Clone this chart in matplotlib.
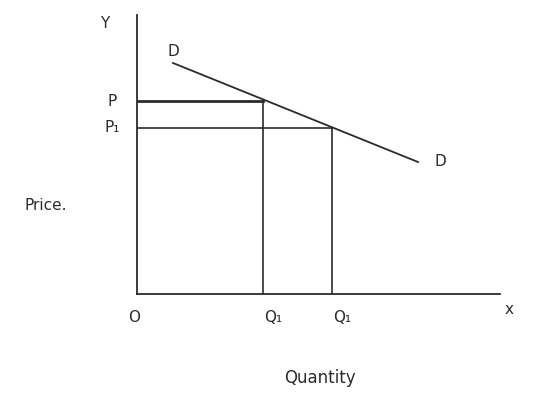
import matplotlib.pyplot as plt

# demand curve end points (quantity, price)
demand_q = [36, 281]
demand_p = [231, 132]

# price levels P, P1 and matching quantities Q1, Q1
prices = [193, 166]
price_labels = ["P", "P₁"]
quantities = [126, 195]
qty_labels = ["Q₁", "Q₁"]

ink = "#2b2b2b"

fig = plt.figure(figsize=(5.42, 3.94), dpi=100)
ax = fig.add_axes([137 / 542, 100 / 394, 363 / 542, 279 / 394])
ax.set_xlim(0, 363)
ax.set_ylim(0, 279)

for s in ["top", "right"]:
    ax.spines[s].set_visible(False)
for s in ["left", "bottom"]:
    ax.spines[s].set_color(ink)
    ax.spines[s].set_linewidth(1.3)
ax.set_xticks([])
ax.set_yticks([])

# demand line
ax.plot(demand_q, demand_p, color=ink, lw=1.3)

# dropped lines from the curve to the axes
for i, (p, q) in enumerate(zip(prices, quantities)):
    ax.plot([0, q], [p, p], color=ink, lw=2.0 if i == 0 else 1.2)
    ax.plot([q, q], [0, p], color=ink, lw=1.2)

fs = 11
ax.text(demand_q[0], demand_p[0] + 4, "D", color=ink, fontsize=fs, ha="center", va="bottom")
ax.text(demand_q[1] + 22, demand_p[1], "D", color=ink, fontsize=fs, ha="center", va="center")

for p, lab in zip(prices, price_labels):
    ax.text(-25, p, lab, color=ink, fontsize=fs, ha="center", va="center")
for q, lab in zip(quantities, qty_labels):
    ax.text(q + 10, -24, lab, color=ink, fontsize=fs, ha="center", va="center")

ax.text(-3, -24, "O", color=ink, fontsize=fs, ha="center", va="center")
ax.text(-32, 270, "Y", color=ink, fontsize=fs, ha="center", va="center")
ax.text(372, -16, "x", color=ink, fontsize=fs, ha="center", va="center", clip_on=False)
ax.text(-112, 89, "Price.", color=ink, fontsize=fs, ha="left", va="center")
ax.text(183, -84, "Quantity", color=ink, fontsize=fs + 1, ha="center", va="center")

fig.savefig("out.png", dpi=100)
